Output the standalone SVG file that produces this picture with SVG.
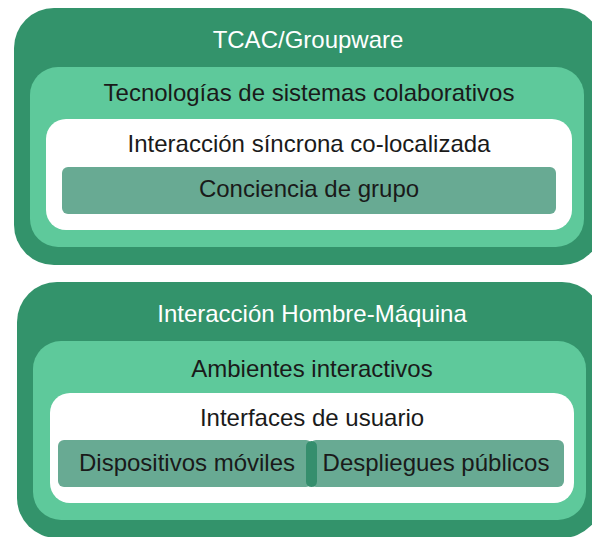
<svg xmlns="http://www.w3.org/2000/svg" width="592" height="537" viewBox="0 0 592 537" font-family="'Liberation Sans', Arial, Helvetica, sans-serif">
<style>
.outer{fill:#33936b}
.mid{fill:#5ec99b}
.inner{fill:#ffffff}
.leaf{fill:#68aa93}
.div{fill:#358e6d}
text{font-family:'Liberation Sans',Arial,Helvetica,sans-serif;font-size:24px;text-anchor:middle;fill:#1a1a1a}
.wt{fill:#ffffff}
</style>
<rect width="592" height="537" fill="#ffffff"/>
<g id="tcac">
<rect class="outer" x="14" y="8" width="588" height="257" rx="40"/>
<text class="wt" x="308" y="48">TCAC/Groupware</text>
</g>
<g id="tecnologias">
<rect class="mid" x="30" y="67" width="554" height="180" rx="28"/>
<text x="309" y="101">Tecnologías de sistemas colaborativos</text>
</g>
<g id="interaccion-sincrona">
<rect class="inner" x="46" y="119" width="526" height="111" rx="20"/>
<text x="309" y="152">Interacción síncrona co-localizada</text>
</g>
<g id="conciencia">
<rect class="leaf" x="62" y="167" width="494" height="47" rx="6"/>
<text x="309" y="197">Conciencia de grupo</text>
</g>
<g id="ihm">
<rect class="outer" x="17" y="282" width="585" height="256" rx="40"/>
<text class="wt" x="312" y="322">Interacción Hombre-Máquina</text>
</g>
<g id="ambientes">
<rect class="mid" x="33" y="341" width="553" height="179" rx="28"/>
<text x="312" y="377">Ambientes interactivos</text>
</g>
<g id="interfaces">
<rect class="inner" x="50" y="393" width="524" height="110" rx="20"/>
<text x="312" y="426">Interfaces de usuario</text>
</g>
<g id="dispositivos">
<rect class="leaf" x="58" y="440" width="254" height="47" rx="6"/>
<text x="187" y="471">Dispositivos móviles</text>
</g>
<g id="despliegues">
<rect class="leaf" x="310" y="440" width="254" height="47" rx="6"/>
<text x="436" y="471">Despliegues públicos</text>
</g>
<g id="connectors">
<rect class="div" x="306" y="441" width="11" height="46" rx="5.5"/>
</g>
</svg>
